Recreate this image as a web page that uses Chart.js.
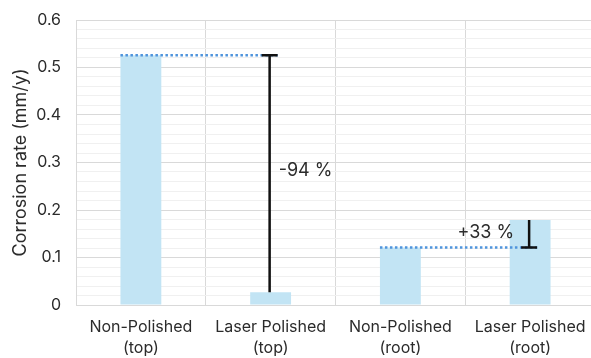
<!DOCTYPE html>
<html>
<head>
<meta charset="utf-8">
<script src="https://cdn.jsdelivr.net/npm/chart.js@4"></script>
<style>
  html, body { margin: 0; padding: 0; background: #fff; overflow: hidden; }
  #wrap { width: 600px; height: 358px; }
</style>
</head>
<body>
<div id="wrap"><canvas id="rateChart" width="600" height="358"></canvas></div>
<script>
// corrosion rate per sample (mm/y)
const categories = [['Non-Polished', '(top)'], ['Laser Polished', '(top)'], ['Non-Polished', '(root)'], ['Laser Polished', '(root)']];
const rates = [0.526, 0.027, 0.121, 0.179];
const yTicks = [0, 0.1, 0.2, 0.3, 0.4, 0.5, 0.6];
const yTitle = 'Corrosion rate (mm/y)';

// change markers: from reference bar to compared bar
const changeFrom = [0, 2];
const changeTo = [1, 3];
const changeLabels = ['-94 %', '+33 %'];

const FONT = 'Inter, "Open Sans", sans-serif';
const TEXT = '#2b2b2b';

const changePlugin = {
    id: 'changeMarkers',
    afterDatasetsDraw(chart) {
        const { ctx, chartArea } = chart;
        const x = chart.scales.x, y = chart.scales.y;
        const meta = chart.getDatasetMeta(0);
        ctx.save();
        changeFrom.forEach((from, i) => {
            const to = changeTo[i];
            const barFrom = meta.data[from];
            const yRef = y.getPixelForValue(rates[from]);
            const yNew = y.getPixelForValue(rates[to]);
            const xc = x.getPixelForValue(to) - 1;
            const capHalf = 8;
            // dotted reference line
            ctx.strokeStyle = '#4f94dc';
            ctx.lineWidth = 2.5;
            ctx.setLineDash([2.5, 2.5]);
            ctx.beginPath();
            ctx.moveTo(barFrom.x - barFrom.width / 2, yRef);
            ctx.lineTo(xc + capHalf, yRef);
            ctx.stroke();
            ctx.setLineDash([]);
            // black difference bar with cap on reference level
            ctx.strokeStyle = '#111';
            ctx.lineWidth = 2.5;
            ctx.beginPath();
            ctx.moveTo(xc, yNew);
            ctx.lineTo(xc, yRef);
            ctx.moveTo(xc - capHalf, yRef);
            ctx.lineTo(xc + capHalf, yRef);
            ctx.stroke();
            // label
            ctx.fillStyle = TEXT;
            ctx.font = '18px ' + FONT;
            ctx.textBaseline = 'middle';
            if (rates[to] < rates[from]) {
                ctx.textAlign = 'left';
                ctx.fillText(changeLabels[i], xc + 9, (yRef + yNew) / 2 - 3);
            } else {
                ctx.textAlign = 'right';
                ctx.fillText(changeLabels[i], xc - 15, yNew + 13);
            }
        });
        // axis title
        ctx.translate(21, (chartArea.top + chartArea.bottom) / 2);
        ctx.rotate(-Math.PI / 2);
        ctx.fillStyle = TEXT;
        ctx.font = '18px ' + FONT;
        ctx.textAlign = 'center';
        ctx.textBaseline = 'middle';
        ctx.fillText(yTitle, 0, 0);
        ctx.restore();
    }
};

new Chart(document.getElementById('rateChart'), {
    type: 'bar',
    data: {
        labels: categories,
        datasets: [{
            label: 'Corrosion rate',
            data: rates,
            backgroundColor: '#c2e4f4',
            borderWidth: 0,
            barPercentage: 0.315,
            categoryPercentage: 1,
        }]
    },
    options: {
        responsive: false,
        animation: false,
        layout: { padding: { top: 20, right: 5, left: 0, bottom: 0 } },
        plugins: { legend: { display: false }, tooltip: { enabled: false } },
        scales: {
            x: {
                grid: { color: '#d9d9d9', drawTicks: false, offset: true },
                border: { color: '#d9d9d9' },
                ticks: { color: TEXT, font: { family: FONT, size: 16, lineHeight: 1.3 }, padding: 12, maxRotation: 0 },
                afterFit: s => { s.height = 53; }
            },
            y: {
                min: 0, max: 0.6,
                grid: {
                    drawTicks: false,
                    color: c => (Math.abs(c.tick.value * 10 - Math.round(c.tick.value * 10)) < 1e-6 ? '#d9d9d9' : '#f0f0f0')
                },
                border: { color: '#d9d9d9' },
                ticks: {
                    stepSize: 0.02,
                    autoSkip: false,
                    color: TEXT,
                    font: { family: FONT, size: 16 },
                    padding: 15,
                    callback: v => {
                        const t = yTicks.find(k => Math.abs(k - v) < 1e-6);
                        return t === undefined ? '' : String(t);
                    }
                },
                afterFit: s => { s.width = 76; s.paddingTop = 0; s.paddingBottom = 0; }
            }
        }
    },
    plugins: [changePlugin]
});
</script>
</body>
</html>
